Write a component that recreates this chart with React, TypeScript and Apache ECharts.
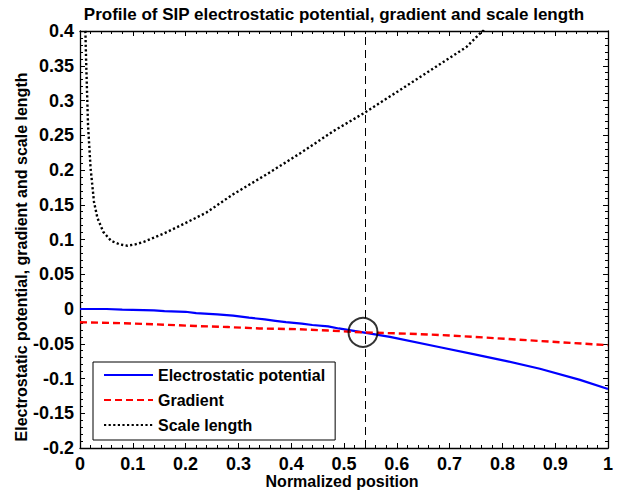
import React, { useEffect, useRef } from "react";
import * as echarts from "echarts";

const titleText = "Profile of SIP electrostatic potential, gradient and scale length";
const xAxisTitle = "Normalized position";
const yAxisTitle = "Electrostatic potential, gradient and scale length";
const seriesNames = ["Electrostatic potential", "Gradient", "Scale length"];

const potX = [0, 0.05, 0.08, 0.14, 0.16, 0.2, 0.22, 0.26, 0.29, 0.32, 0.35, 0.37, 0.39, 0.42, 0.44, 0.47, 0.49, 0.536, 0.587, 0.682, 0.745, 0.808, 0.871, 0.947, 1.0];
const potY = [0, 0, -0.001, -0.002, -0.003, -0.004, -0.006, -0.0077, -0.0096, -0.0125, -0.015, -0.017, -0.019, -0.021, -0.023, -0.025, -0.028, -0.0336, -0.04, -0.055, -0.065, -0.075, -0.086, -0.102, -0.115];

const gradX = [0, 0.06, 0.14, 0.22, 0.28, 0.34, 0.41, 0.47, 0.536, 0.619, 0.682, 0.745, 0.808, 0.871, 0.934, 1.0];
const gradY = [-0.019, -0.02, -0.022, -0.0245, -0.026, -0.028, -0.029, -0.031, -0.0336, -0.0355, -0.0374, -0.04, -0.043, -0.046, -0.049, -0.052];

const scaleX = [0.0095, 0.0115, 0.0133, 0.0152, 0.02, 0.0265, 0.033, 0.044, 0.059, 0.075, 0.09, 0.105, 0.122, 0.16, 0.198, 0.239, 0.29, 0.354, 0.417, 0.48, 0.537, 0.606, 0.669, 0.732, 0.765];
const scaleY = [0.42, 0.36, 0.313, 0.265, 0.203, 0.154, 0.131, 0.111, 0.098, 0.093, 0.091, 0.093, 0.097, 0.109, 0.123, 0.1386, 0.165, 0.194, 0.224, 0.256, 0.2815, 0.315, 0.346, 0.377, 0.402];

const crossX = 0.536;
const crossY = -0.0336;

const FONT = "'Liberation Sans', Arial, Helvetica, sans-serif";

export default function App() {
  const ref = useRef<HTMLDivElement>(null);
  useEffect(() => {
    if (!ref.current) return;
    const chart = echarts.init(ref.current, null, { renderer: "svg" });
    const tick = { show: true, inside: true, length: 5, lineStyle: { color: "#000", width: 1 } };
    const minor = { show: true, splitNumber: 5, length: 3, lineStyle: { color: "#000", width: 1 } };
    const axLine = { show: true, onZero: false, lineStyle: { color: "#000", width: 1.3 } };
    const lbl = { color: "#000", fontWeight: "bold", fontSize: 18, fontFamily: FONT };
    const zip = (a: number[], b: number[]) => a.map((v, i) => [v, b[i]]);
    chart.setOption({
      animation: false,
      backgroundColor: "#fff",
      grid: { left: 80, right: 13, top: 31, bottom: 43, show: false },
      xAxis: [
        { type: "value", min: 0, max: 1, interval: 0.1, position: "bottom", axisLine: axLine, axisTick: tick, minorTick: minor, splitLine: { show: false }, axisLabel: { ...lbl, margin: 7 } },
        { type: "value", min: 0, max: 1, interval: 0.1, position: "top", axisLine: axLine, axisTick: tick, minorTick: minor, splitLine: { show: false }, axisLabel: { show: false } },
      ],
      yAxis: [
        { type: "value", min: -0.2, max: 0.4, interval: 0.05, position: "left", axisLine: axLine, axisTick: tick, minorTick: minor, splitLine: { show: false }, axisLabel: { ...lbl, margin: 6 } },
        { type: "value", min: -0.2, max: 0.4, interval: 0.05, position: "right", axisLine: axLine, axisTick: tick, minorTick: minor, splitLine: { show: false }, axisLabel: { show: false } },
      ],
      legend: {
        data: seriesNames,
        orient: "vertical",
        left: 93,
        top: 362,
        itemWidth: 49,
        itemHeight: 14,
        itemGap: 9,
        padding: [5, 10, 7, 10],
        borderColor: "#000",
        borderWidth: 1,
        borderRadius: 0,
        backgroundColor: "#fff",
        itemStyle: { opacity: 0 },
        textStyle: { color: "#000", fontWeight: "bold", fontSize: 16, fontFamily: FONT },
      },
      series: [
        {
          name: seriesNames[0],
          type: "line",
          data: zip(potX, potY),
          symbol: "none",
          lineStyle: { color: "#0000ff", width: 2.2 },
          itemStyle: { color: "#0000ff" },
          z: 3,
          markLine: {
            silent: true,
            symbol: ["none", "none"],
            label: { show: false },
            lineStyle: { color: "#000", width: 1, type: [8, 5] },
            data: [{ xAxis: crossX }],
          },
        },
        {
          name: seriesNames[1],
          type: "line",
          data: zip(gradX, gradY),
          symbol: "none",
          lineStyle: { color: "#ff0000", width: 2.4, type: [7, 4] },
          itemStyle: { color: "#ff0000" },
          z: 3,
        },
        {
          name: seriesNames[2],
          type: "line",
          data: zip(scaleX, scaleY),
          symbol: "none",
          lineStyle: { color: "#000", width: 2.4, type: [2.2, 2.4] },
          itemStyle: { color: "#000" },
          z: 3,
        },
        {
          name: "crossing",
          type: "scatter",
          data: [[crossX, crossY]],
          symbol: "circle",
          symbolSize: 29,
          itemStyle: { color: "transparent", borderColor: "#000", borderWidth: 2 },
          z: 4,
          silent: true,
        },
      ],
      graphic: [
        { type: "text", x: 334, y: 14, style: { text: titleText, fill: "#000", font: `bold 17px ${FONT}`, align: "center", verticalAlign: "middle" } },
        { type: "text", x: 342, y: 481, style: { text: xAxisTitle, fill: "#000", font: `bold 16px ${FONT}`, align: "center", verticalAlign: "middle" } },
        { type: "text", x: 21, y: 257, rotation: Math.PI / 2, style: { text: yAxisTitle, fill: "#000", font: `bold 16px ${FONT}`, align: "center", verticalAlign: "middle" } },
      ],
    });
    return () => chart.dispose();
  }, []);
  return <div ref={ref} style={{ width: 621, height: 491, position: "absolute", left: 0, top: 0 }} />;
}
